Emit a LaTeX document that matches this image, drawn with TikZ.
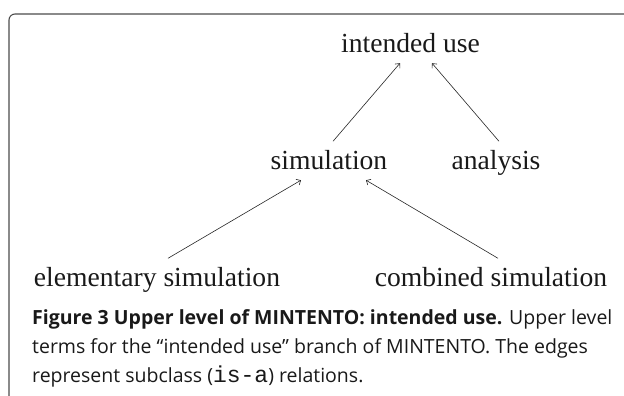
\documentclass[tikz,border=0pt]{standalone}
\usepackage{fontspec}
\setmainfont{Liberation Serif}
\newfontfamily\captionfont{Open Sans}
\newfontfamily\isafont{Liberation Mono}
\usetikzlibrary{arrows.meta}
\tikzset{
  term/.style={anchor=base, inner sep=3.5pt, text height=25pt, text depth=6.5pt, text=black!90, font=\fontsize{27.6}{30}\selectfont},
  isa/.style={draw=black!85, line width=0.6pt, -{Straight Barb[length=3.5pt,width=6.5pt]}},
  capline/.style={anchor=base west, inner sep=0pt, text=black!90, font=\captionfont\fontsize{19.5}{29}\selectfont}
}
\begin{document}
\begin{tikzpicture}[x=1pt,y=1pt]
                        \useasboundingbox (0.000000,0.000000) rectangle (624.000000,396.000000);
                        
                        % Drawing frame
                        \draw [line width=1.1pt, black!70, rounded corners=6pt] (9.000000,0.000000) -- (9.000000,382.000000) -- (624.000000,382.000000);%
                        
                        % Marking term intended use
                        \draw (410.500000,343.000000) node (iu) [term] {intended use};%
                        
                        % Marking terms simulation and analysis
                        \draw (329.000000,226.000000) node (sim) [term] {simulation};%
                        \draw (496.000000,226.000000) node (ana) [term] {analysis};%
                        
                        % Marking terms elementary simulation and combined simulation
                        \draw (157.000000,109.000000) node (elem) [term] {elementary simulation};%
                        \draw (491.000000,109.000000) node (comb) [term] {combined simulation};%
                        
                        % Drawing is-a edges
                        \draw [isa] ([xshift=4pt]sim.north) -- ([xshift=-10.5pt]iu.south);%
                        \draw [isa] ([xshift=3pt]ana.north) -- ([xshift=21.5pt]iu.south);%
                        \draw [isa] ([xshift=11pt]elem.north) -- ([xshift=-28pt]sim.south);%
                        \draw [isa] ([xshift=7pt]comb.north) -- ([xshift=37pt]sim.south);%
                        
                        % Writing caption
                        \draw (32.000000,71.000000) node (cap1) [capline] {{\bfseries Figure 3 Upper level of MINTENTO: intended use.} Upper level};%
                        \draw (32.000000,42.000000) node (cap2) [capline] {terms for the “intended use” branch of MINTENTO. The edges};%
                        \draw (32.000000,13.000000) node (cap3) [capline] {represent subclass ({\isafont\fontsize{23}{29}\selectfont is-a}) relations.};%
\end{tikzpicture}
\end{document}
